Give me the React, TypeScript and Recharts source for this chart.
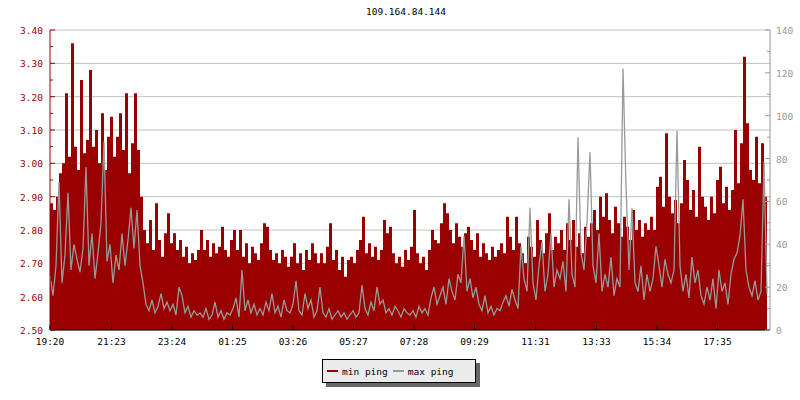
import React from "react";
import { ComposedChart, Area, Line, XAxis, YAxis, CartesianGrid } from "recharts";

const title = "109.164.84.144";

const tickMinutes = [0, 123, 244, 365, 486, 607, 728, 849, 971, 1093, 1214, 1335];
const tickLabels = ["19:20", "21:23", "23:24", "01:25", "03:26", "05:27", "07:28", "09:29", "11:31", "13:33", "15:34", "17:35"];

const leftTicks = [2.5, 2.6, 2.7, 2.8, 2.9, 3.0, 3.1, 3.2, 3.3, 3.4];
const rightTicks = [0, 20, 40, 60, 80, 100, 120, 140];

const stepMinutes = 6;

// min ping (left axis)
const minPing = [
  2.88, 2.86, 2.90, 2.97, 3.00, 3.21, 3.02, 3.36, 3.05, 2.98,
  3.25, 3.03, 3.07, 3.28, 3.05, 3.10, 3.00, 3.15, 2.98, 3.08,
  3.14, 3.02, 3.08, 3.15, 3.04, 3.21, 2.97, 3.06, 3.21, 3.04,
  2.90, 2.80, 2.76, 2.83, 2.74, 2.88, 2.77, 2.72, 2.79, 2.85,
  2.76, 2.79, 2.74, 2.77, 2.72, 2.75, 2.70, 2.73, 2.71, 2.74,
  2.80, 2.74, 2.77, 2.72, 2.76, 2.73, 2.75, 2.81, 2.74, 2.72,
  2.77, 2.80, 2.74, 2.80, 2.72, 2.76, 2.70, 2.75, 2.73, 2.71,
  2.76, 2.82, 2.81, 2.74, 2.71, 2.73, 2.70, 2.74, 2.72, 2.69,
  2.72, 2.76, 2.70, 2.73, 2.68, 2.74, 2.71, 2.76, 2.73, 2.70,
  2.73, 2.70, 2.75, 2.82, 2.71, 2.74, 2.68, 2.72, 2.66, 2.71,
  2.72, 2.70, 2.74, 2.77, 2.84, 2.73, 2.76, 2.72, 2.75, 2.71,
  2.74, 2.83, 2.79, 2.81, 2.73, 2.70, 2.72, 2.69, 2.74, 2.71,
  2.75, 2.86, 2.73, 2.70, 2.72, 2.68, 2.74, 2.80, 2.77, 2.76,
  2.82, 2.88, 2.85, 2.80, 2.76, 2.82, 2.78, 2.75, 2.79, 2.81,
  2.77, 2.74, 2.79, 2.72, 2.76, 2.73, 2.71, 2.75, 2.72, 2.74,
  2.76, 2.73, 2.84, 2.78, 2.74, 2.84, 2.76, 2.73, 2.70, 2.78,
  2.75, 2.72, 2.83, 2.77, 2.73, 2.79, 2.85, 2.74, 2.78, 2.76,
  2.80, 2.74, 2.82, 2.77, 2.83, 2.75, 2.79, 2.73, 2.81, 2.78,
  2.82, 2.86, 2.80, 2.90, 2.84, 2.91, 2.83, 2.79, 2.87, 2.82,
  2.78, 2.84, 2.81, 2.77, 2.86, 2.80, 2.83, 2.78, 2.82, 2.80,
  2.84, 2.80, 2.93, 2.96, 2.87, 3.09, 2.90, 2.85, 2.89, 2.82,
  2.88, 3.01, 2.95, 2.86, 2.92, 2.84, 3.05, 2.90, 2.87, 2.83,
  2.90, 2.85, 2.95, 2.99, 2.88, 2.93, 2.86, 2.92, 3.10, 2.94,
  3.06, 3.32, 3.12, 2.98, 2.95, 3.08, 2.94, 3.06, 2.90, 2.96,
];

// max ping (right axis)
const maxPing = [
  25, 16, 30, 69, 22, 35, 64, 28, 40, 33,
  27, 38, 76, 30, 45, 24, 36, 50, 88, 32,
  40, 22, 35, 28, 45, 30, 42, 57, 38, 56,
  30, 22, 12, 9, 14, 8, 11, 17, 10, 13,
  9, 12, 7, 20, 16, 8, 11, 6, 9, 7,
  8, 6, 10, 5, 7, 13, 6, 9, 5, 8,
  7, 10, 15, 6, 28, 9, 14, 8, 12, 7,
  10, 7, 13, 9, 17, 8, 11, 6, 14, 9,
  8, 12, 23, 9, 7, 17, 10, 14, 6, 9,
  20, 8, 6, 10, 5, 7, 9, 6, 8, 5,
  7, 9, 6, 8, 21, 10, 7, 13, 9, 20,
  12, 14, 8, 10, 7, 11, 9, 6, 10, 8,
  7, 9, 6, 11, 8, 10, 7, 15, 20, 12,
  16, 20, 12, 24, 18, 14, 26, 22, 44, 18,
  24, 15, 20, 12, 9, 16, 8, 11, 7, 10,
  9, 13, 16, 11, 19, 14, 10, 39, 24, 18,
  57, 22, 14, 30, 41, 18, 26, 45, 20, 28,
  24, 32, 18, 61, 26, 20, 90, 36, 28, 50,
  83, 30, 22, 45, 18, 26, 20, 34, 16, 24,
  20, 122, 67, 28, 57, 22, 18, 30, 14, 26,
  18, 24, 39, 30, 20, 33, 26, 22, 28, 93,
  30, 18, 26, 15, 34, 22, 28, 16, 12, 20,
  14, 24, 10, 28, 18, 22, 12, 26, 33, 36,
  44, 61, 28, 20, 16, 23, 14, 18, 78, 17,
];

const data = minPing.map((v, i) => ({ t: i * stepMinutes, min: v, max: maxPing[i] }));

const FONT = "'DejaVu Sans Mono', 'Liberation Mono', monospace";
const FS = 9.5;
const RED = "#990000";
const GRAY = "#999999";

const labelFor = (v: number) => {
  const i = tickMinutes.indexOf(v);
  return i >= 0 ? tickLabels[i] : "";
};

const XTick = (props: any) => {
  const { x, y, payload } = props;
  return (
    <g>
      <line x1={x} x2={x} y1={y} y2={y - 5} stroke="#000" />
      <text x={x} y={y + 15} textAnchor="middle" fill="#000" fontSize={FS} fontFamily={FONT}>
        {labelFor(payload.value)}
      </text>
    </g>
  );
};

const LeftTick = (props: any) => {
  const { x, y, payload } = props;
  const half = 300 / 9 / 2;
  return (
    <g>
      <line x1={x} x2={x + 5} y1={y} y2={y} stroke={RED} />
      {payload.value < 3.4 ? <line x1={x} x2={x + 3} y1={y - half} y2={y - half} stroke={RED} /> : null}
      <text x={x - 7} y={y + 4} textAnchor="end" fill={RED} fontSize={FS} fontFamily={FONT}>
        {Number(payload.value).toFixed(2)}
      </text>
    </g>
  );
};

const RightTick = (props: any) => {
  const { x, y, payload } = props;
  const half = 300 / 7 / 2;
  return (
    <g>
      <line x1={x} x2={x - 5} y1={y} y2={y} stroke={GRAY} />
      {payload.value < 140 ? <line x1={x} x2={x - 3} y1={y - half} y2={y - half} stroke={GRAY} /> : null}
      <text x={x + 6} y={y + 4} textAnchor="start" fill={GRAY} fontSize={FS} fontFamily={FONT}>
        {payload.value}
      </text>
    </g>
  );
};

export default function App() {
  return (
    <div style={{ position: "absolute", left: 0, top: 0, width: 800, height: 400, background: "#fff", fontFamily: FONT }}>
      <div style={{ position: "absolute", left: 46, top: 6, width: 720, textAlign: "center", fontSize: FS, color: "#000" }}>
        {title}
      </div>
      <ComposedChart width={800} height={400} data={data} margin={{ top: 30, right: 0, bottom: 0, left: 0 }}>
        <CartesianGrid yAxisId="left" vertical={false} stroke="#c0c0c0" strokeWidth={1} />
        <XAxis
          dataKey="t"
          type="number"
          domain={[0, 1440]}
          ticks={tickMinutes}
          interval={0}
          height={70}
          tickSize={0}
          tickMargin={0}
          tickLine={false}
          tick={<XTick />}
          axisLine={{ stroke: "#000" }}
          allowDataOverflow
        />
        <YAxis
          yAxisId="left"
          orientation="left"
          width={50}
          domain={[2.5, 3.4]}
          ticks={leftTicks}
          interval={0}
          tickSize={0}
          tickMargin={0}
          tickLine={false}
          tick={<LeftTick />}
          axisLine={{ stroke: RED }}
          allowDataOverflow
        />
        <YAxis
          yAxisId="right"
          orientation="right"
          width={30}
          domain={[0, 140]}
          ticks={rightTicks}
          interval={0}
          tickSize={0}
          tickMargin={0}
          tickLine={false}
          tick={<RightTick />}
          axisLine={{ stroke: GRAY }}
          allowDataOverflow
        />
        <Area
          yAxisId="left"
          type="stepAfter"
          dataKey="min"
          stroke="none"
          fill={RED}
          fillOpacity={1}
          isAnimationActive={false}
        />
        <Line
          yAxisId="right"
          type="linear"
          dataKey="max"
          stroke={GRAY}
          strokeWidth={1.3}
          dot={false}
          isAnimationActive={false}
        />
      </ComposedChart>
      <div
        style={{
          position: "absolute",
          left: 322,
          top: 359,
          width: 152,
          height: 22,
          background: "#ececec",
          border: "1px solid #000",
          boxShadow: "4px 4px 0 #666",
          display: "flex",
          alignItems: "center",
          fontSize: FS,
          color: "#000",
        }}
      >
        <span style={{ display: "inline-block", width: 11, height: 2, background: RED, marginLeft: 4, marginRight: 4 }} />
        <span>min ping</span>
        <span style={{ display: "inline-block", width: 11, height: 2, background: GRAY, marginLeft: 5, marginRight: 4 }} />
        <span>max ping</span>
      </div>
    </div>
  );
}
